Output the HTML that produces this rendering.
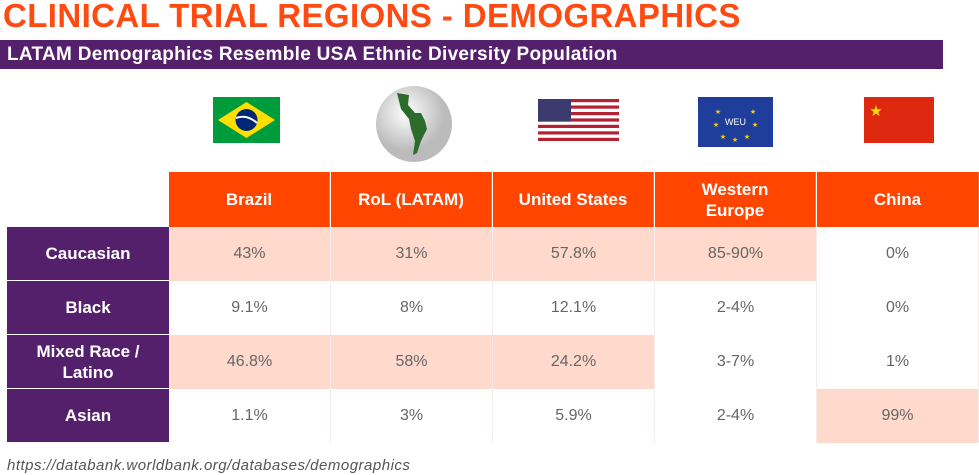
<!DOCTYPE html>
<html><head><meta charset="utf-8"><style>
body{margin:0;width:979px;height:475px;background:#fff;position:relative;overflow:hidden;font-family:"Liberation Sans",sans-serif}
.abs{position:absolute}
#title{left:3px;top:-3px;font-size:33px;font-weight:bold;color:#ff4a12;letter-spacing:0.4px;white-space:nowrap}
#sub{left:0;top:40px;width:943px;height:29px;background:#55206b;color:#fff;font-weight:bold;font-size:19px;line-height:29px;padding-left:7px;box-sizing:border-box;letter-spacing:0.3px;white-space:nowrap}
.hd{top:172px;height:55px;width:161px;background:#ff4500;color:#fff;font-weight:bold;font-size:17px;display:flex;align-items:center;justify-content:center;text-align:center;line-height:21px;border-right:1px solid #ff6a3a;box-sizing:border-box}
.rl{left:7px;width:162px;height:53px;background:#55206b;color:#fff;font-weight:bold;font-size:17px;display:flex;align-items:center;justify-content:center;text-align:center;line-height:21px}
.c{width:162px;height:54px;display:flex;align-items:center;justify-content:center;font-size:16px;color:#666;border-right:1px solid #f3ece9;box-sizing:border-box}
.h{background:#fed9cc}
#src{left:7px;top:457px;font-size:15px;font-style:italic;color:#555;letter-spacing:0.5px;white-space:nowrap}
</style></head><body>
<div id="title" class="abs">CLINICAL TRIAL REGIONS - DEMOGRAPHICS</div>
<div id="sub" class="abs">LATAM Demographics Resemble USA Ethnic Diversity Population</div>

<svg class="abs" style="left:213px;top:97px" width="67" height="46"><rect width="67" height="46" fill="#009b3a"/><polygon points="33.5,5 62,23 33.5,41 5,23" fill="#fedf00"/><circle cx="33.5" cy="23" r="11" fill="#002776"/><path d="M23,21 Q34,17 44,26" stroke="#fff" stroke-width="2" fill="none"/></svg>
<svg class="abs" style="left:375px;top:85px" width="78" height="78"><defs><radialGradient id="g" cx="40%" cy="35%"><stop offset="0" stop-color="#fff"/><stop offset="1" stop-color="#bbb"/></radialGradient></defs><ellipse cx="39" cy="39" rx="38" ry="38" fill="url(#g)"/><path d="M22,8 L34,10 L33,20 L40,28 L46,28 L50,36 L52,44 L46,56 L42,68 L38,70 L40,56 L36,44 L34,34 L26,24 Z" fill="#2d6b2d"/></svg>
<svg class="abs" style="left:538px;top:99px" width="81" height="42"><rect width="81" height="42" fill="#fff"/><g fill="#b22234"><rect y="0" width="81" height="3.2"/><rect y="6.5" width="81" height="3.2"/><rect y="13" width="81" height="3.2"/><rect y="19.4" width="81" height="3.2"/><rect y="25.8" width="81" height="3.2"/><rect y="32.3" width="81" height="3.2"/><rect y="38.8" width="81" height="3.2"/></g><rect width="33" height="22.6" fill="#3c3b6e"/></svg>
<svg class="abs" style="left:698px;top:97px" width="75" height="50"><rect width="75" height="50" fill="#1f3d9a"/><text x="37.5" y="28" font-size="9" fill="#fff" text-anchor="middle" font-family="Liberation Sans">WEU</text><g fill="#fc0" font-size="7" text-anchor="middle"><text x="20" y="17">★</text><text x="55" y="17">★</text><text x="18" y="30">★</text><text x="57" y="30">★</text><text x="25" y="42">★</text><text x="37" y="45">★</text><text x="49" y="42">★</text></g></svg>
<svg class="abs" style="left:864px;top:97px" width="70" height="46"><rect width="70" height="46" fill="#de2910"/><text x="12" y="19" font-size="15" fill="#ffde00" text-anchor="middle">★</text></svg>

<div class="abs hd" style="left:169px">Brazil</div>
<div class="abs hd" style="left:331px">RoL (LATAM)</div>
<div class="abs hd" style="left:493px">United States</div>
<div class="abs hd" style="left:655px">Western<br>Europe</div>
<div class="abs hd" style="left:817px;width:162px">China</div>

<div class="abs rl" style="top:227px">Caucasian</div>
<div class="abs rl" style="top:281px">Black</div>
<div class="abs rl" style="top:335px">Mixed Race /<br>Latino</div>
<div class="abs rl" style="top:389px">Asian</div>

<div id="cells"></div>
<script>
var vals=[["43%","31%","57.8%","85-90%","0%"],["9.1%","8%","12.1%","2-4%","0%"],["46.8%","58%","24.2%","3-7%","1%"],["1.1%","3%","5.9%","2-4%","99%"]];
var hl=[[1,1,1,1,0],[0,0,0,0,0],[1,1,1,0,0],[0,0,0,0,1]];
var host=document.getElementById('cells');
for(var r=0;r<4;r++)for(var c=0;c<5;c++){
var d=document.createElement('div');
d.className='abs c'+(hl[r][c]?' h':'');
d.style.left=(169+c*162)+'px';d.style.top=(227+r*54)+'px';
d.textContent=vals[r][c];


host.appendChild(d);}
</script>
<div id="src" class="abs">https://databank.worldbank.org/databases/demographics</div>
</body></html>
